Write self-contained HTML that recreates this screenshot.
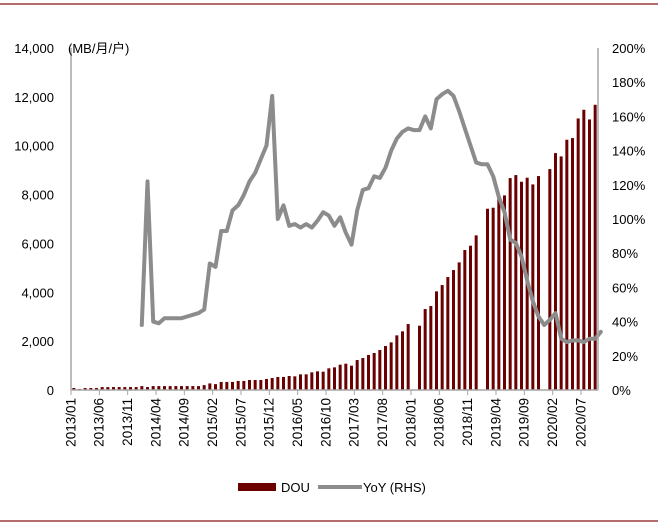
<!DOCTYPE html>
<html><head><meta charset="utf-8"><style>
body{margin:0;background:#fff;}
svg{display:block;font-family:"Liberation Sans","Noto Sans CJK SC",sans-serif;}
</style></head><body>
<svg id="chart" width="658" height="524">
<line x1="0" y1="4" x2="658" y2="4" stroke="#9b3a3a" stroke-width="1.5"/>
<line x1="0" y1="521" x2="658" y2="521" stroke="#9b3a3a" stroke-width="1.5"/>
<g id="bars"></g>
<g id="line"></g>
<g id="axes"></g>
<text x="68" y="53" font-size="13" fill="#000">(MB/月/户)</text>
<g>
<rect x="238" y="483" width="38" height="8" fill="#6b0000"/>
<text x="281" y="492" font-size="13">DOU</text>
<line x1="318" y1="487" x2="362" y2="487" stroke="#8c8c8c" stroke-width="4"/>
<text x="363" y="492" font-size="13">YoY (RHS)</text>
</g>
</svg>
<script>
const douValues = [82,40,80,80,80,120,120,120,120,120,120,120,
160,120,160,160,160,160,160,160,160,160,160,200,
270,240,330,330,330,370,370,410,410,409,450,491,
532,532,573,559,641,641,723,764,750,887,927,1036,
1077,995,1227,1309,1432,1514,1636,1800,1950,2237,2400,2700,
null,2632,3314,3437,4037,4296,4624,4910,5224,5729,5906,6329,
null,7420,7461,7966,7966,8675,8798,8525,8689,8416,8757,
null,9043,9698,9562,10244,10312,11116,11471,11076,11676];
const yoyValues = [null,null,null,null,null,null,null,null,null,null,null,null,
38,122,40,39,42,42,42,42,43,44,45,47,
74,72,93,93,105,108,114,122,127,135,143,172,
100,108,96,97,95,97,95,99,104,102,96,101,
92,85,105,117,118,125,124,130,140,147,151,153,
152,152,160,153,170,173,175,172,163,153,143,133,
132,132,125,113,104,88,86,78,64,52,43,38,
41,45,30,28,29,29,28,30,30,34];
const leftTicks = ["0","2,000","4,000","6,000","8,000","10,000","12,000","14,000"];
const leftTickValues = [0,2000,4000,6000,8000,10000,12000,14000];
const rightTickValues = [0,20,40,60,80,100,120,140,160,180,200];
const startYear = 2013, startMonth = 1;

const NS="http://www.w3.org/2000/svg";
const X0=71, X1=598, Y0=390, Y1=48;
const n=douValues.length;
const bw=(X1-X0)/n;
const xC=i=>X0+(i+0.5)*bw;
const yL=v=>Y0-(v/14000)*(Y0-Y1);
const yR=v=>Y0-(v/200)*(Y0-Y1);
function mk(tag,attrs,parent){const e=document.createElementNS(NS,tag);for(const k in attrs)e.setAttribute(k,attrs[k]);parent.appendChild(e);return e;}
function lab(i){let m=startMonth-1+i;const y=startYear+Math.floor(m/12);m=m%12+1;return y+"/"+(m<10?"0":"")+m;}

const gb=document.getElementById('bars');
douValues.forEach((v,i)=>{
  if(v==null)return;
  const r=mk('rect',{x:xC(i)-1.5,y:yL(v),width:3,height:Y0-yL(v),fill:'#6b0000'},gb);
  
  
});
const gl=document.getElementById('line');
let d="";
yoyValues.forEach((v,i)=>{if(v==null)return;d+=(d?"L":"M")+xC(i).toFixed(1)+","+yR(v).toFixed(1);});
const p=mk('path',{d:d,fill:'none',stroke:'#8c8c8c','stroke-width':4,'stroke-linejoin':'round','stroke-linecap':'round'},gl);



const ga=document.getElementById('axes');
const la=mk('line',{x1:X0,y1:Y1,x2:X0,y2:Y0,stroke:'#a6a6a6','stroke-width':1.5},ga);


const ra=mk('line',{x1:X1,y1:Y1,x2:X1,y2:Y0,stroke:'#a6a6a6','stroke-width':1.5},ga);


const xa=mk('line',{x1:X0,y1:Y0,x2:X1,y2:Y0,stroke:'#a6a6a6','stroke-width':1.5},ga);


leftTickValues.forEach((v,k)=>{
  const t=mk('text',{x:54,y:yL(v)+5,'text-anchor':'end','font-size':13,fill:'#000'},ga);
  t.textContent=leftTicks[k];
  
  
});
rightTickValues.forEach(v=>{
  const t=mk('text',{x:612,y:yR(v)+5,'font-size':13,fill:'#000'},ga);
  t.textContent=v+"%";
  
  
});
for(let i=0;i<n;i+=5){
  const x=X0+i*bw;
  const tk=mk('line',{x1:x,y1:Y0,x2:x,y2:Y0+5,stroke:'#a6a6a6','stroke-width':1},ga);
  
  
  const cx=xC(i)+1.5;
  const t=mk('text',{x:cx,y:398,'font-size':13.5,fill:'#000','text-anchor':'end',transform:`rotate(-90 ${cx} 398)`},ga);
  t.textContent=lab(i);
  
  
}
</script>
</body></html>
